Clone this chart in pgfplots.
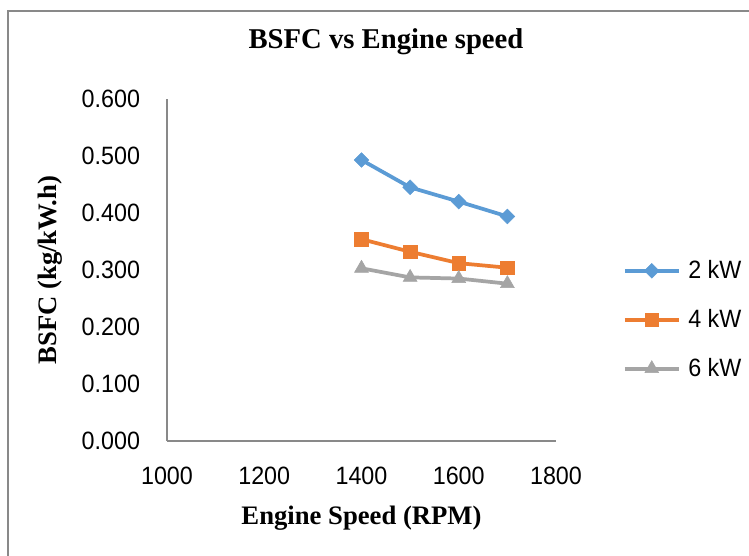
\documentclass[border=0pt]{standalone}
\usepackage{fontspec}
\setmainfont{Liberation Serif}
\newfontfamily\tickfont[FakeStretch=0.93]{Liberation Sans}
\usepackage{pgfplots}
\pgfplotsset{compat=1.18}
\definecolor{sblue}{HTML}{5B9BD5}
\definecolor{sorange}{HTML}{ED7D31}
\definecolor{sgray}{HTML}{A5A5A5}
\definecolor{axgray}{HTML}{898989}
\begin{document}
\begin{tikzpicture}
\useasboundingbox (-125.25pt,-86.25pt) rectangle (436.5pt,330.75pt);
\fill[white] (-125.25pt,-86.25pt) rectangle (436.5pt,330.75pt);
\draw[color=axgray, line width=0.9pt] (-119.25pt,-90pt) -- (-119.25pt,322.5pt) -- (440pt,322.5pt);
\begin{axis}[
  at={(0,0)}, anchor=south west,
  scale only axis, width=291.75pt, height=256.5pt,
  xmin=1000, xmax=1800, ymin=0, ymax=0.6,
  xtick={1000,1200,1400,1600,1800},
  ytick={0,0.1,0.2,0.3,0.4,0.5,0.6},
  major tick length=0pt,
  axis x line*=bottom, axis y line*=left,
  axis line style={-, color=axgray, line width=1.1pt},
  /pgf/number format/assume math mode=true,
  ticklabel style={font=\tickfont\fontsize{18.8}{20}\selectfont, inner sep=0pt},
  xticklabel style={anchor=north, yshift=-19pt, /pgf/number format/set thousands separator={}},
  yticklabel style={anchor=east, xshift=-20pt, /pgf/number format/.cd, fixed, fixed zerofill, precision=3},
  title={BSFC vs Engine speed},
  title style={font=\bfseries\fontsize{21.5}{24}\selectfont, at={(axis description cs:0.563,1.123)}, anchor=base},
  xlabel={Engine Speed (RPM)},
  xlabel style={font=\bfseries\fontsize{20}{22}\selectfont, at={(axis description cs:0.5,-0.243)}, anchor=base},
  ylabel={BSFC (kg/kW.h)},
  ylabel style={font=\bfseries\fontsize{20}{22}\selectfont, at={(axis description cs:-0.283,0.5)}, anchor=base, rotate=0},
  legend style={at={(axis description cs:1.172,0.535)}, anchor=north west, draw=none, fill=none,
    inner sep=0pt, outer sep=0pt, row sep=17.6pt, column sep=3.75pt,
    font=\tickfont\fontsize{18.8}{20}\selectfont, legend cell align=left},
  legend image code/.code={\draw[mark repeat=2,mark phase=2] plot coordinates {(0pt,0pt) (20.25pt,0pt) (40.5pt,0pt)};},
  clip=false,
]
\addplot[color=sblue, line width=2.8pt, mark=square*, mark size=3.9pt, mark options={rotate=45, solid, line width=0.4pt}]
  coordinates {(1400,0.493) (1500,0.445) (1600,0.420) (1700,0.394)};
\addlegendentry{2 kW}
\addplot[color=sorange, line width=2.8pt, mark=square*, mark size=5.2pt, mark options={solid, line width=0.4pt}]
  coordinates {(1400,0.354) (1500,0.332) (1600,0.312) (1700,0.304)};
\addlegendentry{4 kW}
\addplot[color=sgray, line width=2.8pt, mark=triangle*, mark size=6pt, mark options={solid, line width=0.4pt}]
  coordinates {(1400,0.303) (1500,0.287) (1600,0.285) (1700,0.276)};
\addlegendentry{6 kW}
\end{axis}
\end{tikzpicture}
\end{document}
